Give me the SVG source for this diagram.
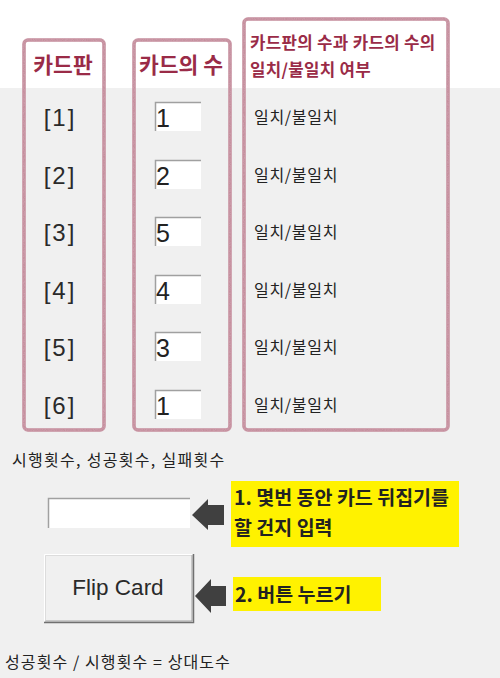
<svg xmlns="http://www.w3.org/2000/svg" width="500" height="678" viewBox="0 0 500 678">
<style>
.frame{fill:none;stroke:#c68f9d;stroke-width:3.5}
.hd{font-family:"Noto Sans CJK KR","Noto Sans",sans-serif;font-weight:bold;fill:#9a2b47}
.idx{font-family:"Liberation Sans","Noto Sans CJK KR",sans-serif;font-size:24px;fill:#2a2a2a;letter-spacing:2px}
.num{font-family:"Liberation Sans","Noto Sans CJK KR",sans-serif;font-size:25px;fill:#222}
.lbl{font-family:"Noto Sans CJK KR",sans-serif;font-size:16px;fill:#222}
.note{font-family:"Noto Sans CJK KR",sans-serif;font-size:19.5px;font-weight:bold;fill:#222}
.hl{fill:#fff200}
.arrow{fill:#404040}
.field{fill:#fff}
.fd{stroke:#a0a0a0;stroke-width:1.5;fill:none}
</style>
<defs>
<filter id="grain" x="-5%" y="-5%" width="110%" height="110%">
<feTurbulence type="fractalNoise" baseFrequency="0.9" numOctaves="2" seed="3" result="n"/>
<feColorMatrix in="n" type="matrix" values="0 0 0 0 0.62  0 0 0 0 0.36  0 0 0 0 0.44  0 0 0 1.6 -0.5" result="c"/>
<feComposite in="c" in2="SourceGraphic" operator="in" result="t"/>
<feMerge><feMergeNode in="SourceGraphic"/><feMergeNode in="t"/></feMerge>
</filter>
<g id="inp">
<rect class="field" x="0" y="0" width="46" height="29"/>
<path class="fd" d="M0.5,29 V0.5 H46"/>
</g>
</defs>
<rect x="0" y="0" width="500" height="678" fill="#f0f0f0"/>
<rect x="0" y="0" width="500" height="88" fill="#ffffff"/>

<g id="col-board">
<rect class="frame" x="24" y="40" width="80" height="390" rx="4" filter="url(#grain)"/>
<text class="hd" x="63" y="73" font-size="21.5" text-anchor="middle">카드판</text>
<text class="idx" x="60" y="126" text-anchor="middle">[1]</text>
<text class="idx" x="60" y="184" text-anchor="middle">[2]</text>
<text class="idx" x="60" y="241" text-anchor="middle">[3]</text>
<text class="idx" x="60" y="299" text-anchor="middle">[4]</text>
<text class="idx" x="60" y="356" text-anchor="middle">[5]</text>
<text class="idx" x="60" y="414" text-anchor="middle">[6]</text>
</g>

<g id="col-cards">
<rect class="frame" x="134" y="40" width="96" height="390" rx="4" filter="url(#grain)"/>
<text class="hd" x="181" y="73" font-size="21.5" text-anchor="middle">카드의 수</text>
<use href="#inp" x="155" y="102"/>
<text class="num" x="156" y="127">1</text>
<use href="#inp" x="155" y="160"/>
<text class="num" x="156" y="185">2</text>
<use href="#inp" x="155" y="217"/>
<text class="num" x="156" y="242">5</text>
<use href="#inp" x="155" y="275"/>
<text class="num" x="156" y="300">4</text>
<use href="#inp" x="155" y="332"/>
<text class="num" x="156" y="357">3</text>
<use href="#inp" x="155" y="390"/>
<text class="num" x="156" y="415">1</text>
</g>

<g id="col-match">
<rect class="frame" x="244" y="19" width="204" height="411" rx="4" filter="url(#grain)"/>
<text class="hd" x="250" y="49" font-size="16.8" letter-spacing="0.3">카드판의 수과 카드의 수의</text>
<text class="hd" x="250" y="76" font-size="16.8" letter-spacing="0.3">일치/불일치 여부</text>
<text class="lbl" x="254" y="123" letter-spacing="0.7">일치/불일치</text>
<text class="lbl" x="254" y="181" letter-spacing="0.7">일치/불일치</text>
<text class="lbl" x="254" y="238" letter-spacing="0.7">일치/불일치</text>
<text class="lbl" x="254" y="296" letter-spacing="0.7">일치/불일치</text>
<text class="lbl" x="254" y="353" letter-spacing="0.7">일치/불일치</text>
<text class="lbl" x="254" y="411" letter-spacing="0.7">일치/불일치</text>
</g>

<g id="counts">
<text class="lbl" x="12" y="466" letter-spacing="1.3">시행횟수, 성공횟수, 실패횟수</text>
</g>

<g id="input-field">
<rect class="field" x="48" y="498" width="142" height="30"/>
<path class="fd" d="M48.5,528 V498.5 H190"/>
</g>

<g id="note1">
<rect class="hl" x="231" y="481" width="228" height="66"/>
<text class="note" x="234" y="505">1. 몇번 동안 카드 뒤집기를</text>
<text class="note" x="234" y="535">할 건지 입력</text>
</g>

<g id="flip-button">
<rect x="44" y="554" width="149" height="68" fill="#f0f0f0"/>
<path d="M44.5,621.5 V554.5 H192.5" fill="none" stroke="#ffffff" stroke-width="1"/>
<path d="M45,621 H192 V555" fill="none" stroke="#a0a0a0" stroke-width="1"/>
<path d="M44,622.5 H193.5 V554" fill="none" stroke="#707070" stroke-width="1.5"/>
<path d="M45.5,620.5 V555.5 H191" fill="none" stroke="#dcdcdc" stroke-width="1"/>
<text x="118" y="595" text-anchor="middle" font-family="Liberation Sans,Noto Sans,sans-serif" font-size="22.5" fill="#2a2a2a">Flip Card</text>
</g>

<g id="note2">
<rect class="hl" x="233" y="577" width="148" height="34"/>
<text class="note" x="235" y="602">2. 버튼 누르기</text>
</g>

<g id="ratio">
<text class="lbl" x="5" y="668" letter-spacing="1.1">성공횟수 / 시행횟수 = 상대도수</text>
</g>

<g id="connectors">
<polygon class="arrow" points="192,515 208,499 208,505 224,505 224,525 208,525 208,530"/>
<polygon class="arrow" points="195,596 211,579 211,586 226,586 226,606 211,606 211,613"/>
</g>
</svg>
